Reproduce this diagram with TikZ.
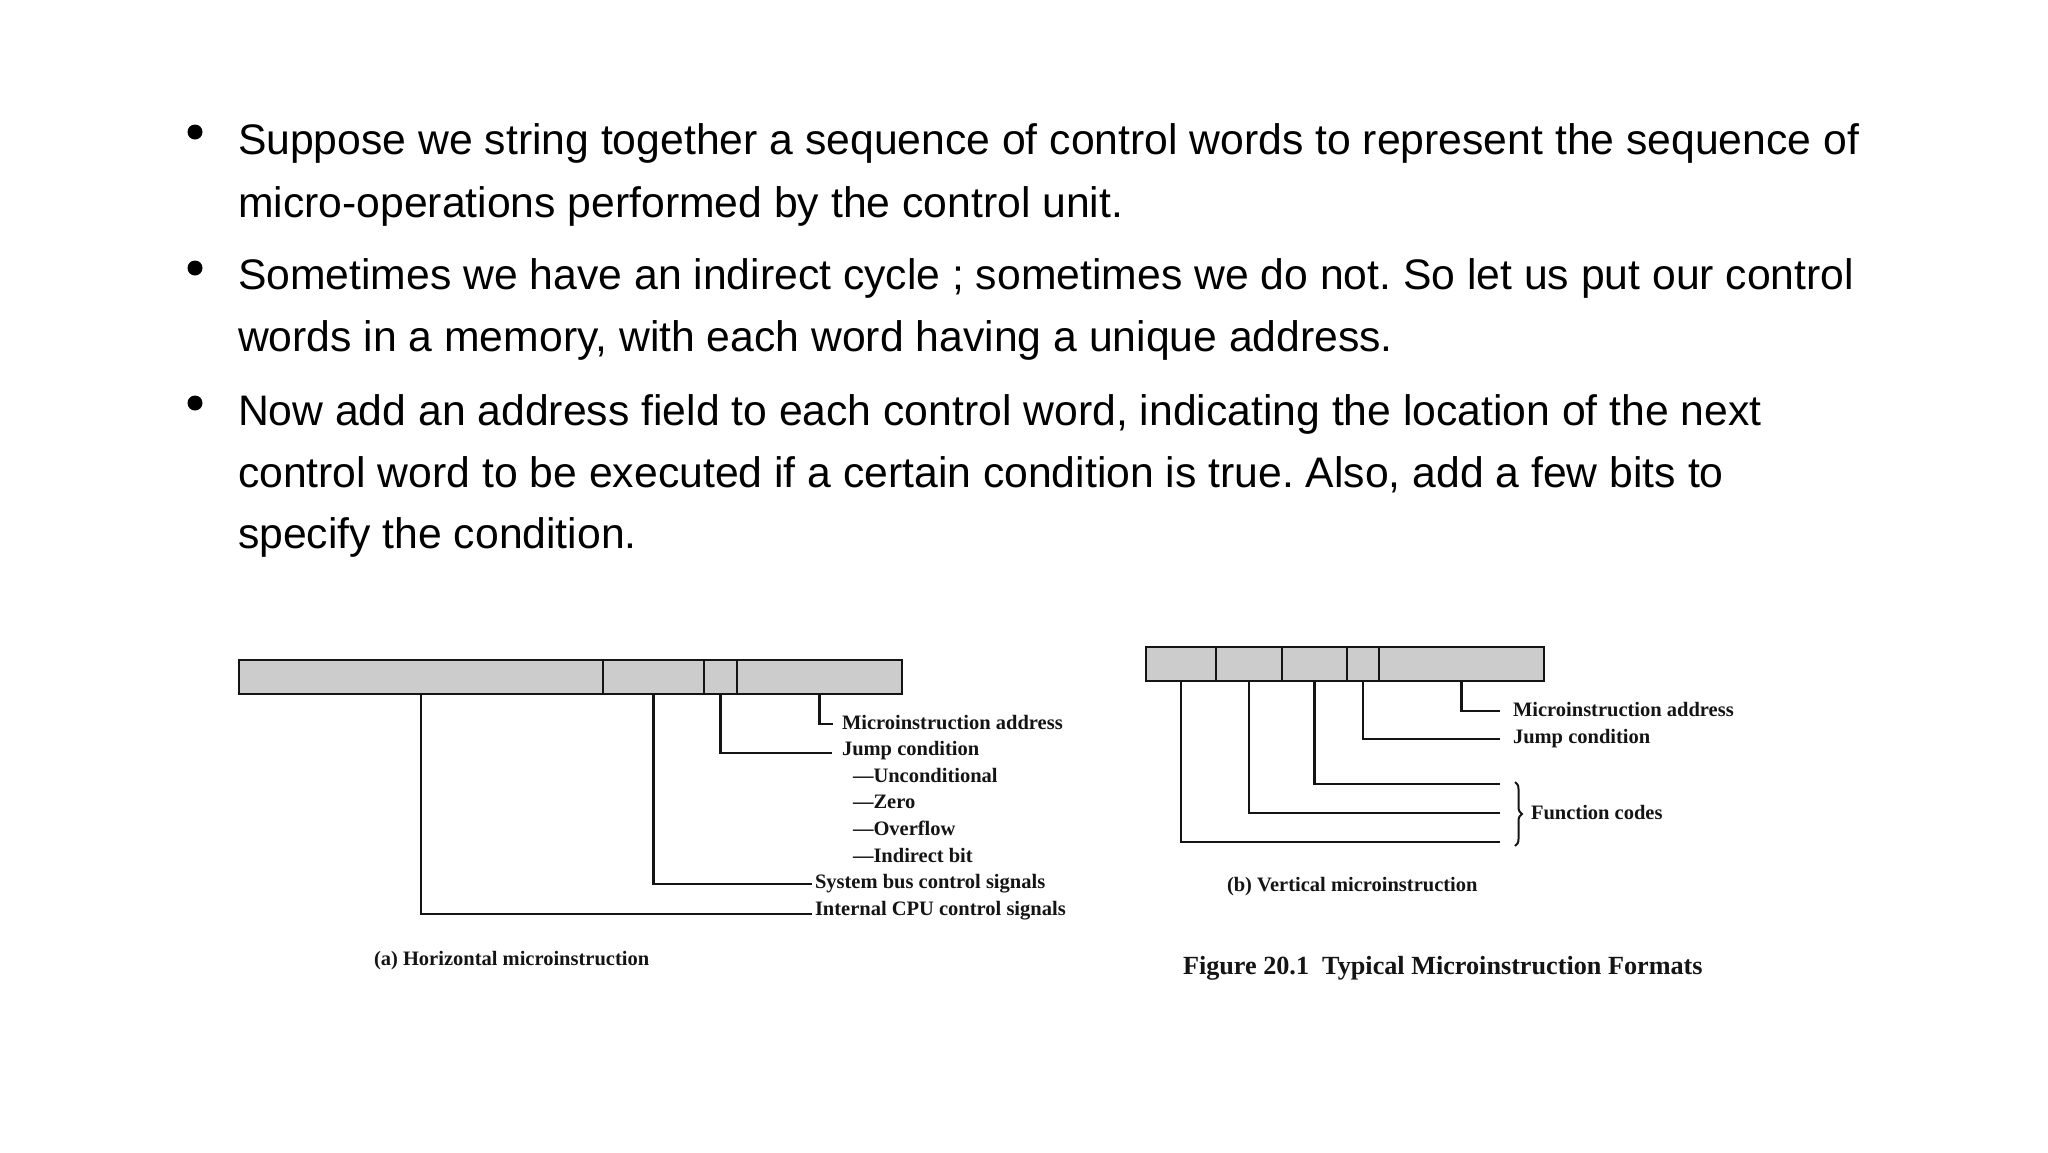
\documentclass[tikz,border=0pt]{standalone}
\usepackage{fontspec}
\setmainfont{Liberation Sans}
\newfontfamily\seriffont{Liberation Serif}
\usetikzlibrary{decorations.pathreplacing}
\definecolor{barfill}{HTML}{CCCCCC}
\definecolor{ink}{HTML}{141414}
\frenchspacing
\begin{document}
\begin{tikzpicture}[x=1pt,y=-1pt,
  body/.style={anchor=base west, inner sep=0pt, outer sep=0pt, text=black, font=\fontsize{42.7}{62}\selectfont},
  lbl/.style={anchor=base west, inner sep=0pt, outer sep=0pt, text=ink, font=\seriffont\bfseries\fontsize{20.5}{26}\selectfont},
  figcap/.style={anchor=base west, inner sep=0pt, outer sep=0pt, text=ink, font=\seriffont\bfseries\fontsize{26.2}{30}\selectfont},
  field/.style={draw=ink, line width=2.9pt, fill=barfill, anchor=north west, inner sep=0pt, outer sep=0pt, minimum height=34pt},
  leader/.style={draw=ink, line width=2.9pt, line join=miter},
  bulletdot/.style={circle, fill=black, inner sep=0pt, outer sep=0pt, minimum size=15pt}
]
\fill[white] (0,0) rectangle (2048,1152);
\useasboundingbox (0,0) rectangle (2048,1152);

% ---------- bullet text ----------
\node[bulletdot] (d1) at (195,132) {};
\node[bulletdot] (d2) at (195,268) {};
\node[bulletdot] (d3) at (195,403) {};
\node[body] (t1) at (238,154) {Suppose we string together a sequence of control words to represent the sequence of};
\node[body] (t2) at (238,217) {micro-operations performed by the control unit.};
\node[body] (t3) at (238,289) {Sometimes we have an indirect cycle ; sometimes we do not. So let us put our control};
\node[body] (t4) at (238,351) {words in a memory, with each word having a unique address.};
\node[body] (t5) at (238,425) {Now add an address field to each control word, indicating the location of the next};
\node[body] (t6) at (238,487) {control word to be executed if a certain condition is true. Also, add a few bits to};
\node[body] (t7) at (238,548) {specify the condition.};

% ---------- (a) horizontal microinstruction ----------
\node[field, minimum width=364pt] (a1) at (239,660) {};
\node[field, minimum width=101pt] (a2) at (603,660) {};
\node[field, minimum width=33pt]  (a3) at (704,660) {};
\node[field, minimum width=165pt] (a4) at (737,660) {};

\node[lbl] (la1) at (842,729)   {Microinstruction address};
\node[lbl] (la2) at (842,755.6) {Jump condition};
\node[lbl] (la3) at (853,782.2) {—Unconditional};
\node[lbl] (la4) at (853,808.8) {—Zero};
\node[lbl] (la5) at (853,835.4) {—Overflow};
\node[lbl] (la6) at (853,862)   {—Indirect bit};
\node[lbl] (la7) at (815,888.6) {System bus control signals};
\node[lbl] (la8) at (815,915.2) {Internal CPU control signals};

\coordinate (ea4) at (833,724);
\coordinate (ea3) at (832,753);
\coordinate (ea2) at (812,884);
\coordinate (ea1) at (812,914);
\draw[leader] (a4.south) |- (ea4);
\draw[leader] (a3.south) |- (ea3);
\draw[leader] (a2.south) |- (ea2);
\draw[leader] (a1.south) |- (ea1);

\node[lbl] (capa) at (374,965) {(a) Horizontal microinstruction};

% ---------- (b) vertical microinstruction ----------
\node[field, minimum width=70pt]  (b1) at (1146,647) {};
\node[field, minimum width=66pt]  (b2) at (1216,647) {};
\node[field, minimum width=65pt]  (b3) at (1282,647) {};
\node[field, minimum width=32pt]  (b4) at (1347,647) {};
\node[field, minimum width=165pt] (b5) at (1379,647) {};

\node[lbl] (lb1) at (1513,716) {Microinstruction address};
\node[lbl] (lb2) at (1513,743) {Jump condition};
\node[lbl] (lb3) at (1531,819) {Function codes};

\coordinate (eb5) at (1500,711);
\coordinate (eb4) at (1500,739);
\coordinate (eb3) at (1500,784);
\coordinate (eb2) at (1500,813);
\coordinate (eb1) at (1500,842);
\draw[leader] (b5.south) |- (eb5);
\draw[leader] (b4.south) |- (eb4);
\draw[leader] (b3.south) |- (eb3);
\draw[leader] (b2.south) |- (eb2);
\draw[leader] (b1.south) |- (eb1);

\coordinate (brtop) at (1515,782);
\coordinate (brbot) at (1515,846);
\draw[draw=ink, line width=2pt, decorate, decoration={brace, amplitude=7pt}] (brtop) -- (brbot);

\node[lbl] (capb) at (1227,891) {(b) Vertical microinstruction};
\node[figcap] (fig) at (1183,974) {Figure 20.1\ \ Typical Microinstruction Formats};
\end{tikzpicture}
\end{document}
